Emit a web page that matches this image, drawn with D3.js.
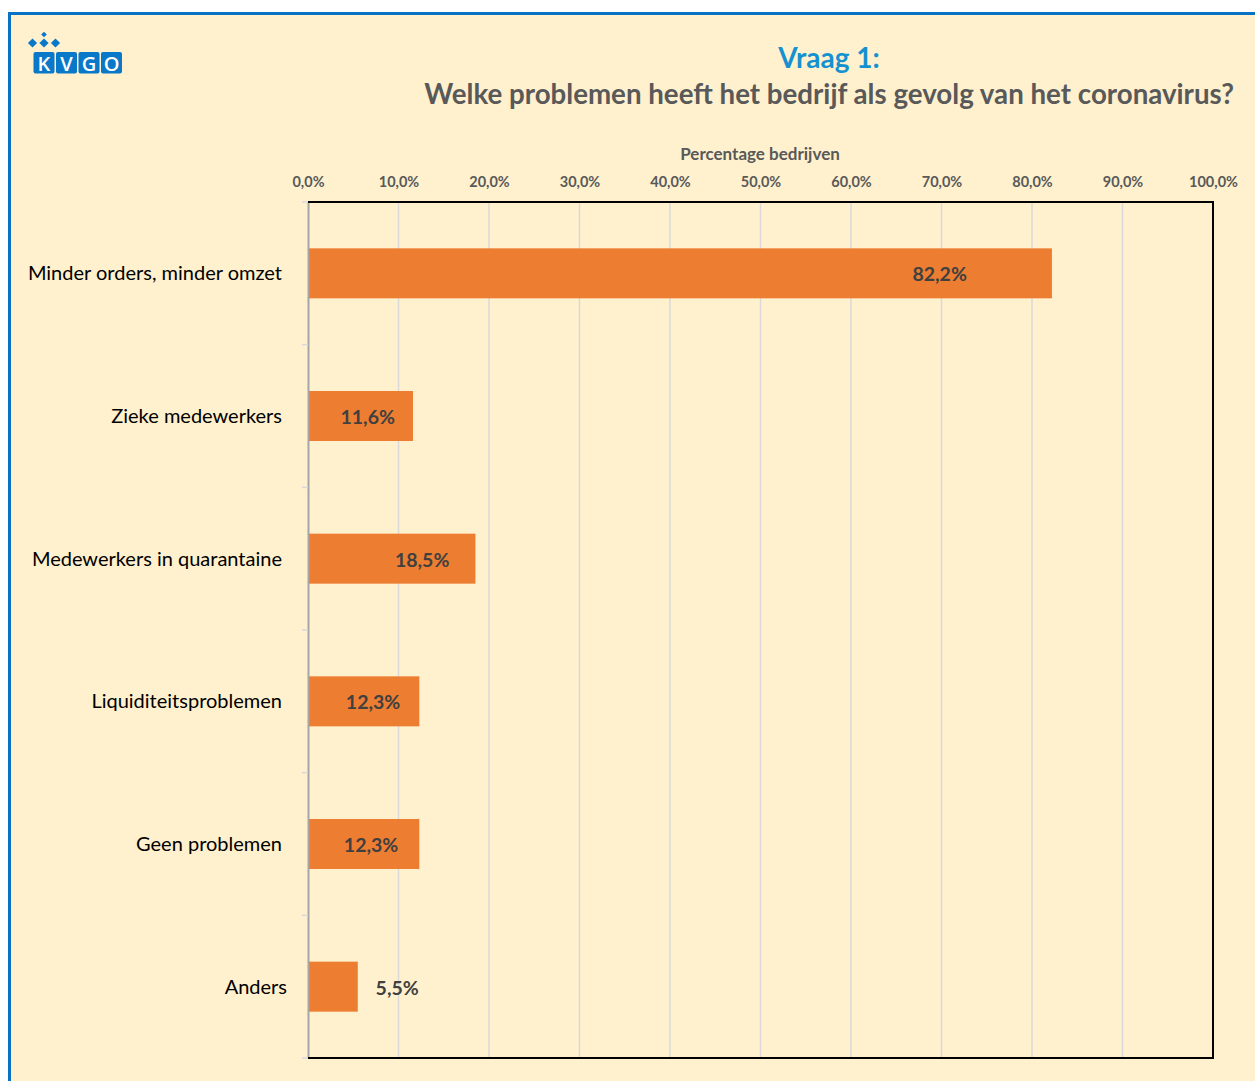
<!DOCTYPE html>
<html lang="nl">
<head>
    <meta charset="UTF-8">
    <title>Vraag 1</title>
    <script src="https://cdn.jsdelivr.net/npm/d3@7"></script>
    <style>
        body { margin: 0; background-color: #fff; }
        svg { display: block; }
        .tick-label { font-family: Lato, "Open Sans", sans-serif; font-weight: bold; font-size: 14.5px; fill: #595959; }
        .cat-label { font-family: Lato, "Open Sans", sans-serif; font-size: 20px; fill: #000; }
        .val-label { font-family: Lato, "Open Sans", sans-serif; font-weight: bold; font-size: 19.5px; fill: #404040; }
    </style>
</head>
<body>
<script>
    const categories = ['Minder orders, minder omzet', 'Zieke medewerkers', 'Medewerkers in quarantaine',
                        'Liquiditeitsproblemen', 'Geen problemen', 'Anders'];
    const values = [82.2, 11.6, 18.5, 12.3, 12.3, 5.5];
    const valueLabels = ['82,2%', '11,6%', '18,5%', '12,3%', '12,3%', '5,5%'];
    const tickValues = [0, 10, 20, 30, 40, 50, 60, 70, 80, 90, 100];
    const tickLabels = ['0,0%', '10,0%', '20,0%', '30,0%', '40,0%', '50,0%', '60,0%', '70,0%', '80,0%', '90,0%', '100,0%'];
    // label end position relative to bar end (px), as placed in the original
    const labelDx = [-85, -18, -26, -19, -21, 61];

    const w = 1255, h = 1081;
    const plotL = 308, plotR = 1213, plotT = 202, plotB = 1058;

    const svg = d3.select('body').append('svg').attr('width', w).attr('height', h);

    // panel + blue frame
    svg.append('rect').attr('x', 9.5).attr('y', 13.5).attr('width', w + 10).attr('height', h + 10)
        .attr('fill', '#FFF1CE').attr('stroke', '#0A72C2').attr('stroke-width', 3);

    // logo
    const logo = svg.append('g');
    [[44, 34.5, 4], [32.5, 43, 6.5], [44, 43, 6.5], [55.5, 43, 6.5]].forEach(([cx, cy, s]) => {
        logo.append('rect').attr('x', cx - s / 2).attr('y', cy - s / 2).attr('width', s).attr('height', s)
            .attr('transform', `rotate(45 ${cx} ${cy})`).attr('fill', '#0A78C8');
    });
    ['K', 'V', 'G', 'O'].forEach((ch, i) => {
        const x = 33.5 + i * 22.5;
        logo.append('rect').attr('x', x).attr('y', 52).attr('width', 21).attr('height', 21.5).attr('rx', 2).attr('fill', '#0A78C8');
        logo.append('text').attr('x', x + 10.5).attr('y', 70.5).attr('text-anchor', 'middle')
            .attr('font-family', '"Open Sans", sans-serif').attr('font-weight', 600).attr('font-size', 20)
            .attr('fill', '#fff').text(ch);
    });

    // titles
    svg.append('text').attr('x', 829).attr('y', 68).attr('text-anchor', 'middle')
        .attr('font-family', 'Lato, "Open Sans", sans-serif').attr('font-weight', 'bold').attr('font-size', 28)
        .attr('fill', '#1591D0').text('Vraag 1:');
    svg.append('text').attr('x', 1234).attr('y', 104).attr('text-anchor', 'end')
        .attr('font-family', 'Lato, "Open Sans", sans-serif').attr('font-weight', 'bold').attr('font-size', 27.7)
        .attr('fill', '#595959').text('Welke problemen heeft het bedrijf als gevolg van het coronavirus?');
    svg.append('text').attr('x', 760).attr('y', 160).attr('text-anchor', 'middle')
        .attr('font-family', 'Lato, "Open Sans", sans-serif').attr('font-weight', 'bold').attr('font-size', 17)
        .attr('fill', '#595959').text('Percentage bedrijven');

    const x = d3.scaleLinear().domain([0, 100]).range([plotL, plotR]);
    const y = d3.scaleBand().domain(categories).range([plotT, plotB]);

    // gridlines
    svg.append('g').selectAll('line').data(tickValues.slice(1, -1)).join('line')
        .attr('x1', d => x(d)).attr('x2', d => x(d)).attr('y1', plotT).attr('y2', plotB)
        .attr('stroke', '#D9D9D9').attr('stroke-width', 1.5);

    // top tick labels
    const xAxis = d3.axisTop(x).tickValues(tickValues).tickFormat((d, i) => tickLabels[i]).tickSize(0);
    const gx = svg.append('g').attr('transform', `translate(0, ${plotT - 12})`).call(xAxis);
    gx.select('.domain').remove();
    gx.selectAll('text').attr('class', 'tick-label').attr('dy', 0);

    // bars
    const barH = 50;
    svg.append('g').selectAll('rect').data(values).join('rect')
        .attr('x', x(0)).attr('y', (d, i) => y(categories[i]) + y.bandwidth() / 2 - barH / 2)
        .attr('width', d => x(d) - x(0)).attr('height', barH).attr('fill', '#ED7D31');

    // value labels
    svg.append('g').selectAll('text').data(values).join('text')
        .attr('class', 'val-label').attr('text-anchor', 'end')
        .attr('x', (d, i) => x(d) + labelDx[i]).attr('y', (d, i) => y(categories[i]) + y.bandwidth() / 2 + 8)
        .text((d, i) => valueLabels[i]);

    // left axis with category labels
    const yAxis = d3.axisLeft(y).tickSize(0).tickPadding(26);
    const gy = svg.append('g').attr('transform', `translate(${plotL}, 0)`).call(yAxis);
    gy.select('.domain').attr('stroke', '#A6A6A6').attr('stroke-width', 2);
    gy.selectAll('text').attr('class', 'cat-label').attr('dy', '0.35em');
    gy.selectAll('.tick text').filter(d => d === 'Anders').attr('dx', 5);
    // boundary tick marks
    svg.append('g').selectAll('line').data(d3.range(categories.length + 1)).join('line')
        .attr('x1', plotL - 6).attr('x2', plotL).attr('y1', i => plotT + i * y.step()).attr('y2', i => plotT + i * y.step())
        .attr('stroke', '#D9D9D9').attr('stroke-width', 1.5);

    // frame top / right / bottom
    svg.append('path').attr('d', `M${plotL},${plotT}H${plotR}V${plotB}H${plotL}`)
        .attr('fill', 'none').attr('stroke', '#000').attr('stroke-width', 2);
</script>
</body>
</html>
